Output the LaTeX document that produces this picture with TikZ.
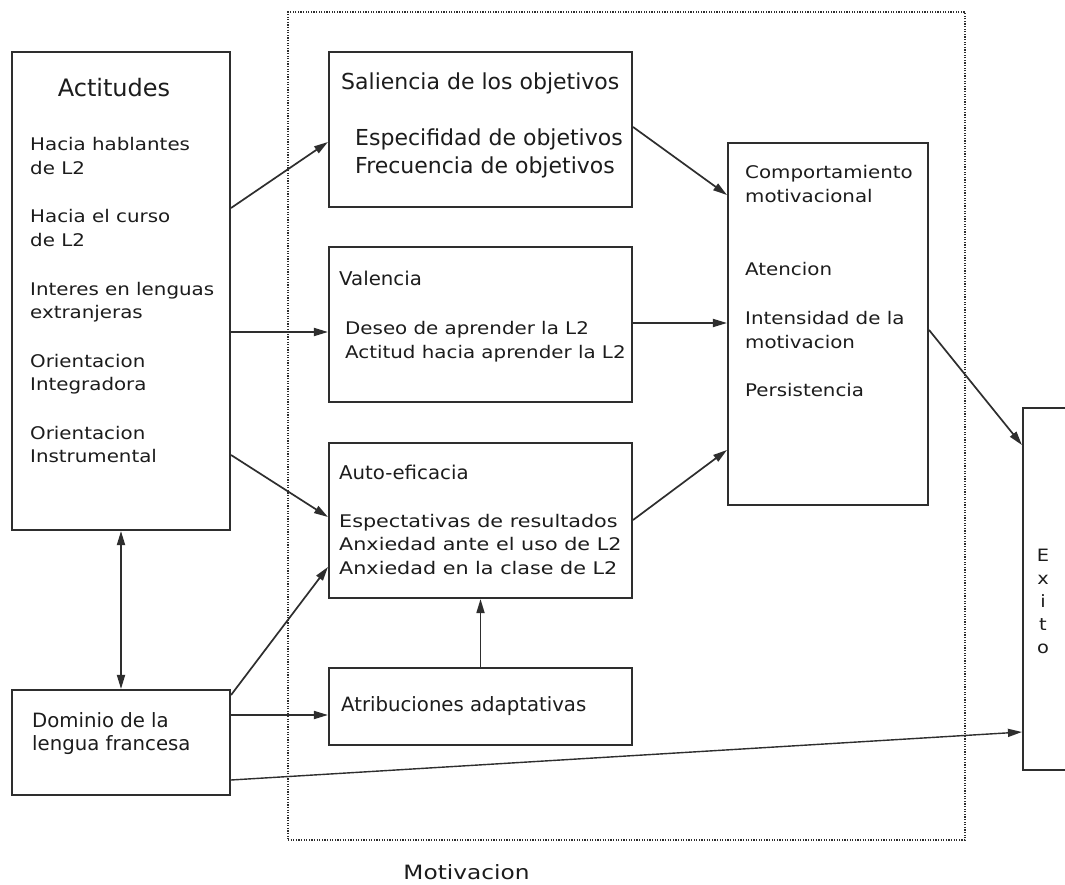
\documentclass[tikz,border=0pt]{standalone}
\usepackage{fontspec}
\setmainfont{DejaVu Sans}
\newfontfamily\wideface{DejaVu Sans}[FakeStretch=1.14]
\newfontfamily\widerface{DejaVu Sans}[FakeStretch=1.19]
\newfontfamily\headface{DejaVu Sans}[FakeStretch=1.04]
\newfontfamily\goalface{DejaVu Sans}[FakeStretch=1.0]
\newfontfamily\labelface{DejaVu Sans}[FakeStretch=1.18]
\usetikzlibrary{arrows.meta}

\definecolor{ink}{HTML}{2E2E2E}
\definecolor{txt}{HTML}{1C1C1C}

\tikzset{
  box/.style={draw=ink, line width=2.1pt, inner sep=0pt},
  frame/.style={draw=ink, line width=1.2pt, dash pattern=on 1.2pt off 1.4pt, inner sep=0pt},
  txtbase/.style={anchor=base west, inner sep=0pt, text=txt},
  item/.style={txtbase, font=\wideface\fontsize{17.4pt}{23.5pt}\selectfont},
  effitem/.style={txtbase, font=\widerface\fontsize{17.4pt}{23.5pt}\selectfont},
  goal/.style={txtbase, font=\goalface\fontsize{22pt}{28pt}\selectfont},
  head/.style={txtbase, font=\headface\fontsize{19pt}{24pt}\selectfont},
  plain/.style={txtbase, font=\fontsize{19.7pt}{23.5pt}\selectfont},
  tip/.style={},
  link/.style={draw=ink, line width=1.7pt, -{Triangle[length=14pt,width=8pt]}},
  twoway/.style={draw=ink, line width=1.7pt, {Triangle[length=14pt,width=8pt]}-{Triangle[length=14pt,width=8pt]}}
}

\begin{document}
\begin{tikzpicture}[x=1pt,y=-1pt]
  \useasboundingbox (0,0) rectangle (1065,885);
  \fill[white] (0,0) rectangle (1065,885);

  % motivation frame
  \node[frame, minimum width=677pt, minimum height=828pt] (mot) at (626.5,426) {};
  \node[anchor=base, inner sep=0pt, text=txt, font=\labelface\fontsize{19.7pt}{24pt}\selectfont]
    (motlabel) at (466.5,879) {Motivacion};

  % boxes
  \node[box, minimum width=218pt, minimum height=478pt] (act) at (121,291) {};
  \node[box, minimum width=303pt, minimum height=155pt] (sal) at (480.5,129.5) {};
  \node[box, minimum width=303pt, minimum height=155pt] (val) at (480.5,324.5) {};
  \node[box, minimum width=303pt, minimum height=155pt] (auto) at (480.5,520.5) {};
  \node[box, minimum width=303pt, minimum height=77pt] (atr) at (480.5,706.5) {};
  \node[box, minimum width=200pt, minimum height=362pt] (comp) at (828,324) {};
  \node[box, minimum width=54pt, minimum height=362pt] (exito) at (1050,589) {};
  \node[box, minimum width=218pt, minimum height=105pt] (dom) at (121,742.5) {};

  % Actitudes
  \node[anchor=base, inner sep=0pt, text=txt, font=\fontsize{24pt}{28pt}\selectfont]
    (acttitle) at (114,97) {Actitudes};
  \node[item] (a1) at (30,151) {Hacia hablantes};
  \node[item] (a2) at (30,175) {de L2};
  \node[item] (a3) at (30,223) {Hacia el curso};
  \node[item] (a4) at (30,246.5) {de L2};
  \node[item] (a5) at (30,295) {Interes en lenguas};
  \node[item] (a6) at (30,318.5) {extranjeras};
  \node[item] (a7) at (30,367) {Orientacion};
  \node[item] (a8) at (30,390.5) {Integradora};
  \node[item] (a9) at (30,439) {Orientacion};
  \node[item] (a10) at (30,462.5) {Instrumental};

  % Saliencia
  \node[goal] (s0) at (341,90) {Saliencia de los objetivos};
  \node[goal] (s1) at (355,146) {Especifidad de objetivos};
  \node[goal] (s2) at (355,174) {Frecuencia de objetivos};

  % Valencia
  \node[head] (v0) at (339,286) {Valencia};
  \node[item] (v1) at (345,334) {Deseo de aprender la L2};
  \node[item] (v2) at (345,358) {Actitud hacia aprender la L2};

  % Auto-eficacia
  \node[head] (e0) at (339,479) {Auto-eficacia};
  \node[effitem] (e1) at (339,527) {Espectativas de resultados};
  \node[effitem] (e2) at (339,550.5) {Anxiedad ante el uso de L2};
  \node[effitem] (e3) at (339,574) {Anxiedad en la clase de L2};

  % Atribuciones
  \node[plain] (r0) at (341,711) {Atribuciones adaptativas};

  % Comportamiento motivacional
  \node[item] (c1) at (745,179) {Comportamiento};
  \node[item] (c2) at (745,203) {motivacional};
  \node[item] (c3) at (745,276) {Atencion};
  \node[item] (c4) at (745,324) {Intensidad de la};
  \node[item] (c5) at (745,348) {motivacion};
  \node[item] (c6) at (745,396) {Persistencia};

  % Exito
  \node[inner sep=0pt, text=txt, align=center, font=\wideface\fontsize{17pt}{23pt}\selectfont]
    (ex) at (1043,601) {E\\x\\i\\t\\o};

  % Dominio
  \node[plain] (d1) at (32,727) {Dominio de la};
  \node[plain] (d2) at (32,750.5) {lengua francesa};

  % connectors
  \draw[link] (act.east |- 0,208) -- (sal.west |- 0,142);
  \draw[link] (act.east |- 0,332) -- (val.west |- 0,332);
  \draw[link] (act.east |- 0,455) -- (auto.west |- 0,517);
  \draw[link] (sal.east |- 0,127) -- (comp.west |- 0,195);
  \draw[link] (val.east |- 0,323) -- (comp.west |- 0,323);
  \draw[link] (auto.east |- 0,520) -- (comp.west |- 0,450);
  \draw[link] (comp.east |- 0,330) -- (exito.west |- 0,445);
  \draw[twoway] (act.south) -- (dom.north);
  \draw[link] (dom.east |- 0,695) -- (auto.west |- 0,567);
  \draw[link] (dom.east |- 0,715) -- (atr.west |- 0,715);
  \draw[link] (atr.north) -- (auto.south);
  \draw[link, line width=1.4pt] (dom.east |- 0,780) -- (exito.west |- 0,732);
\end{tikzpicture}
\end{document}
